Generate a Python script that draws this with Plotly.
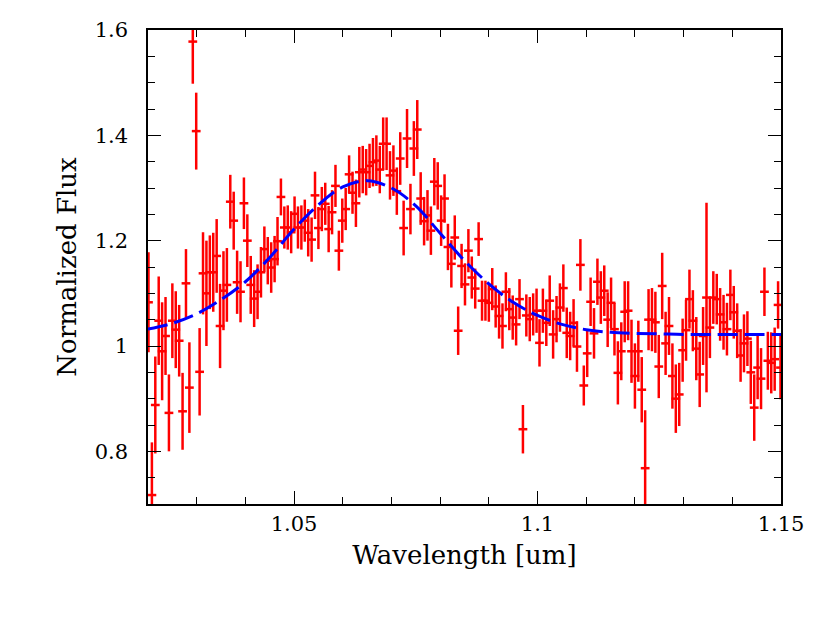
import plotly.graph_objects as go

# ---- data ----
wave = [
    1.0201, 1.0208, 1.0215, 1.0222, 1.0229, 1.0236, 1.0243, 1.0250, 1.0257, 1.0264,
    1.0271, 1.0278, 1.0285, 1.0292, 1.0299, 1.0306, 1.0313, 1.0320, 1.0327, 1.0334,
    1.0341, 1.0348, 1.0355, 1.0362, 1.0369, 1.0376, 1.0383, 1.0390, 1.0397, 1.0404,
    1.0411, 1.0418, 1.0425, 1.0432, 1.0439, 1.0446, 1.0453, 1.0460, 1.0466, 1.0473,
    1.0480, 1.0487, 1.0494, 1.0501, 1.0508, 1.0515, 1.0522, 1.0529, 1.0536, 1.0543,
    1.0550, 1.0557, 1.0564, 1.0571, 1.0578, 1.0585, 1.0592, 1.0599, 1.0606, 1.0613,
    1.0620, 1.0627, 1.0634, 1.0641, 1.0648, 1.0655, 1.0662, 1.0669, 1.0676, 1.0683,
    1.0690, 1.0697, 1.0704, 1.0711, 1.0718, 1.0725, 1.0732, 1.0739, 1.0746, 1.0753,
    1.0760, 1.0767, 1.0774, 1.0781, 1.0788, 1.0795, 1.0802, 1.0809, 1.0816, 1.0823,
    1.0830, 1.0837, 1.0844, 1.0851, 1.0858, 1.0865, 1.0872, 1.0879, 1.0886, 1.0893,
    1.0900, 1.0907, 1.0914, 1.0921, 1.0928, 1.0935, 1.0942, 1.0949, 1.0956, 1.0963,
    1.0970, 1.0977, 1.0984, 1.0991, 1.0998, 1.1004, 1.1011, 1.1018, 1.1025, 1.1032,
    1.1039, 1.1046, 1.1053, 1.1060, 1.1067, 1.1074, 1.1081, 1.1088, 1.1095, 1.1102,
    1.1109, 1.1116, 1.1123, 1.1130, 1.1137, 1.1144, 1.1151, 1.1158, 1.1165, 1.1172,
    1.1179, 1.1186, 1.1193, 1.1200, 1.1207, 1.1214, 1.1221, 1.1228, 1.1235, 1.1242,
    1.1249, 1.1256, 1.1263, 1.1270, 1.1277, 1.1284, 1.1291, 1.1298, 1.1305, 1.1312,
    1.1319, 1.1326, 1.1333, 1.1340, 1.1347, 1.1354, 1.1361, 1.1368, 1.1375, 1.1382,
    1.1389, 1.1396, 1.1403, 1.1410, 1.1417, 1.1424, 1.1431, 1.1438, 1.1445, 1.1452,
    1.1459, 1.1466, 1.1473, 1.1480, 1.1487, 1.1494, 1.1499,
]

flux = [
    1.083, 0.717, 0.888, 1.048, 0.990, 1.019, 0.873, 1.048, 1.031, 1.010,
    0.876, 1.119, 0.921, 1.578, 1.408, 0.951, 1.138, 1.100, 1.140, 1.140,
    1.171, 1.038, 1.105, 1.116, 1.274, 1.238, 1.121, 1.103, 1.271, 1.200,
    1.116, 1.090, 1.103, 1.140, 1.184, 1.162, 1.149, 1.165, 1.199, 1.283,
    1.225, 1.225, 1.216, 1.251, 1.225, 1.225, 1.238, 1.215, 1.202, 1.286,
    1.224, 1.260, 1.270, 1.222, 1.254, 1.304, 1.181, 1.238, 1.260, 1.326,
    1.291, 1.271, 1.330, 1.335, 1.330, 1.342, 1.349, 1.352, 1.335, 1.384,
    1.384, 1.324, 1.333, 1.294, 1.356, 1.224, 1.394, 1.260, 1.375, 1.411,
    1.280, 1.237, 1.248, 1.219, 1.312, 1.304, 1.238, 1.280, 1.188, 1.156,
    1.206, 1.029, 1.152, 1.117, 1.181, 1.130, 1.109, 1.203, 1.086, 1.086,
    1.082, 1.108, 1.075, 1.057, 1.038, 1.103, 1.070, 1.054, 1.041, 1.089,
    0.842, 1.058, 1.051, 1.060, 1.067, 1.006, 1.067, 1.044, 1.086, 1.022,
    1.051, 1.073, 1.110, 1.025, 1.019, 1.044, 0.999, 1.154, 0.925, 0.986,
    1.084, 1.024, 1.122, 1.092, 1.105, 1.050, 1.082, 1.032, 0.949, 0.990,
    1.065, 1.067, 0.990, 0.943, 0.990, 0.917, 0.768, 1.050, 1.050, 1.045,
    0.961, 1.114, 1.005, 1.038, 0.943, 0.900, 0.908, 0.992, 1.030, 1.089,
    1.048, 0.995, 0.946, 1.019, 1.092, 1.035, 1.092, 1.089, 1.060, 1.045,
    1.032, 1.097, 1.064, 1.029, 0.982, 1.005, 1.014, 0.950, 0.883, 0.959,
    0.938, 1.103, 0.972, 0.968, 0.975, 1.078, 0.959,
]

flux_err = [
    0.095, 0.100, 0.092, 0.084, 0.093, 0.074, 0.073, 0.071, 0.073, 0.068,
    0.073, 0.065, 0.086, 0.080, 0.073, 0.083, 0.078, 0.100, 0.070, 0.075,
    0.070, 0.080, 0.075, 0.070, 0.051, 0.055, 0.060, 0.058, 0.049, 0.050,
    0.055, 0.054, 0.052, 0.048, 0.043, 0.045, 0.048, 0.044, 0.046, 0.035,
    0.040, 0.042, 0.040, 0.033, 0.040, 0.042, 0.040, 0.045, 0.042, 0.045,
    0.040, 0.042, 0.040, 0.044, 0.042, 0.040, 0.038, 0.042, 0.040, 0.036,
    0.040, 0.045, 0.048, 0.045, 0.044, 0.042, 0.046, 0.048, 0.045, 0.050,
    0.050, 0.046, 0.048, 0.045, 0.050, 0.052, 0.056, 0.048, 0.052, 0.056,
    0.050, 0.046, 0.048, 0.046, 0.045, 0.045, 0.048, 0.046, 0.044, 0.045,
    0.042, 0.046, 0.042, 0.040, 0.041, 0.040, 0.038, 0.032, 0.038, 0.038,
    0.036, 0.040, 0.040, 0.043, 0.043, 0.037, 0.040, 0.042, 0.040, 0.038,
    0.046, 0.040, 0.042, 0.040, 0.042, 0.045, 0.042, 0.044, 0.048, 0.046,
    0.044, 0.046, 0.045, 0.048, 0.046, 0.045, 0.048, 0.049, 0.038, 0.045,
    0.046, 0.048, 0.044, 0.050, 0.048, 0.052, 0.048, 0.050, 0.060, 0.055,
    0.058, 0.056, 0.060, 0.062, 0.058, 0.062, 0.110, 0.058, 0.060, 0.058,
    0.060, 0.063, 0.060, 0.055, 0.062, 0.065, 0.060, 0.060, 0.058, 0.056,
    0.058, 0.060, 0.062, 0.055, 0.180, 0.058, 0.050, 0.048, 0.050, 0.052,
    0.050, 0.048, 0.050, 0.052, 0.050, 0.055, 0.052, 0.060, 0.063, 0.060,
    0.058, 0.046, 0.055, 0.058, 0.060, 0.045, 0.060,
]

bin_halfwidth = 0.0009

model_wave = [1.020, 1.025, 1.030, 1.035, 1.040, 1.045, 1.050, 1.055, 1.060,
              1.065, 1.070, 1.075, 1.080, 1.085, 1.090, 1.095, 1.100, 1.105,
              1.110, 1.115, 1.120, 1.125, 1.130, 1.135, 1.140, 1.145, 1.150]
model_flux = [1.032, 1.043, 1.061, 1.088, 1.122, 1.168, 1.222, 1.268, 1.302,
              1.314, 1.300, 1.266, 1.214, 1.162, 1.118, 1.083, 1.058, 1.041,
              1.031, 1.026, 1.024, 1.023, 1.022, 1.022, 1.022, 1.022, 1.022]

x_tickvals = [1.05, 1.10, 1.15]
x_ticktext = ["1.05", "1.1", "1.15"]
y_tickvals = [0.8, 1.0, 1.2, 1.4, 1.6]
y_ticktext = ["0.8", "1", "1.2", "1.4", "1.6"]

n = min(len(wave), len(flux), len(flux_err))
wave, flux, flux_err = wave[:n], flux[:n], flux_err[:n]

FONT = "DejaVu Serif"

fig = go.Figure()
fig.add_trace(go.Scatter(
    x=wave, y=flux, mode="markers",
    marker=dict(size=1, color="#ff0000"),
    error_y=dict(type="data", array=flux_err, visible=True,
                 color="#ff0000", thickness=2.5, width=0),
    error_x=dict(type="constant", value=bin_halfwidth, visible=True,
                 color="#ff0000", thickness=2.5, width=0),
    showlegend=False, hoverinfo="skip",
))
fig.add_trace(go.Scatter(
    x=model_wave, y=model_flux, mode="lines",
    line=dict(color="#0000ff", width=3, dash="20px,7px", shape="spline"),
    showlegend=False, hoverinfo="skip",
))

axis_common = dict(
    showline=True, linecolor="black", linewidth=1.5, mirror="ticks",
    ticks="inside", ticklen=13, tickwidth=1.2, tickcolor="black",
    showgrid=False, zeroline=False,
    tickfont=dict(family=FONT, size=21, color="black"),
)

fig.update_xaxes(
    range=[1.02, 1.15], tickmode="array", tickvals=x_tickvals, ticktext=x_ticktext,
    minor=dict(dtick=0.01, tick0=1.0, ticks="inside", ticklen=7, tickwidth=1.2, tickcolor="black"),
    title=dict(text="Wavelength [um]", font=dict(family=FONT, size=26, color="black"), standoff=11),
    ticklabelstandoff=0,
    **axis_common,
)
fig.update_yaxes(
    range=[0.7, 1.6], tickmode="array", tickvals=y_tickvals, ticktext=y_ticktext,
    minor=dict(dtick=0.05, tick0=0.7, ticks="inside", ticklen=7, tickwidth=1.2, tickcolor="black"),
    title=dict(text="Normalized Flux", font=dict(family=FONT, size=26, color="black"), standoff=11),
    ticklabelstandoff=14,
    **axis_common,
)

# page body has an 8px default margin, so the figure is offset by 8px
fig.update_layout(
    width=822, height=613,
    margin=dict(l=140, r=49, t=22, b=117, autoexpand=False),
    paper_bgcolor="white", plot_bgcolor="white",
)

fig.write_html("out.html")
